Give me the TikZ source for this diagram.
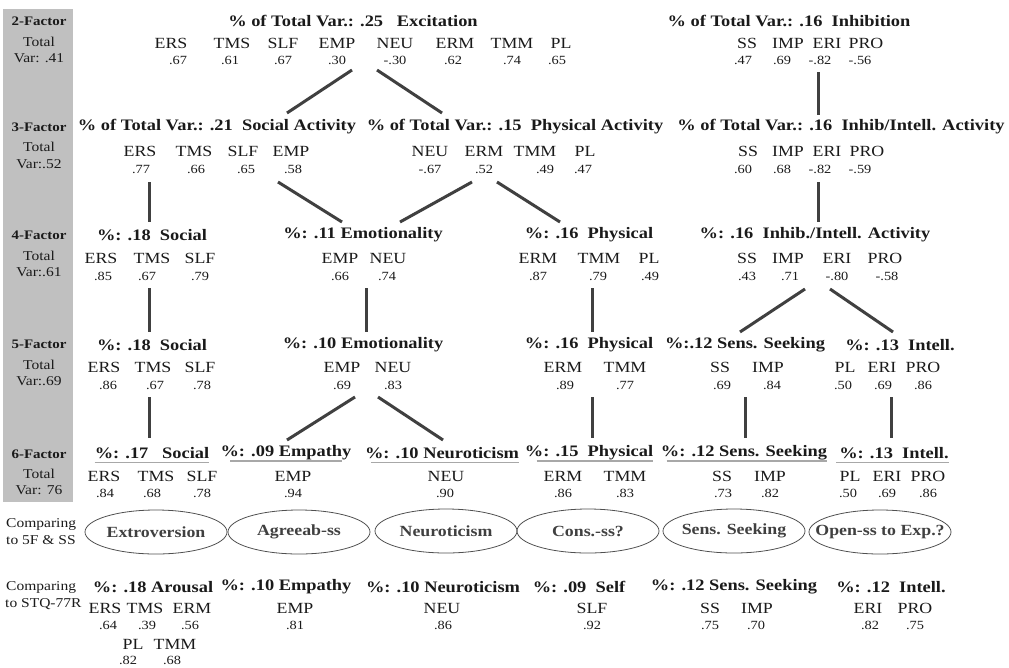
\documentclass[tikz,border=0pt]{standalone}
\usepackage{fontspec}
\setmainfont{Liberation Serif}[FakeStretch=1.15]
\usetikzlibrary{calc}
\definecolor{ink}{HTML}{1A1A1A}
\definecolor{linkgray}{HTML}{404040}
\definecolor{colgray}{HTML}{C0C0C0}
\definecolor{ulgray}{HTML}{A8A8A8}
\definecolor{ellgray}{HTML}{505050}
\tikzset{
	fhead/.style={font=\fontsize{16}{19}\selectfont\bfseries, text=ink, inner sep=0pt},
	fvar/.style={font=\fontsize{15.5}{18}\selectfont, text=ink, inner sep=0pt},
	fval/.style={font=\fontsize{12.5}{14}\selectfont, text=ink, inner sep=0pt},
	rowhead/.style={font=\fontsize{13}{15}\selectfont\bfseries, text=ink, inner sep=0pt},
	rowlab/.style={font=\fontsize{13.5}{15}\selectfont, text=ink, inner sep=0pt},
	cmplab/.style={rowlab, anchor=west},
	branch/.style={draw=linkgray, line width=3pt},
	uline/.style={draw=ulgray, line width=1.6pt},
	match/.style={font=\fontsize{15.5}{18}\selectfont\bfseries, text=linkgray, inner sep=0pt},
	matchring/.style={draw=ellgray, line width=0.8pt, x radius=71, y radius=22}
}
\begin{document}
\begin{tikzpicture}[x=1pt,y=1pt,yscale=-1,xscale=1]
\useasboundingbox (0,0) rectangle (1009,667);
%grey column with the number of factors
\fill [colgray] (3,9) rectangle (73,502);

\draw (39,21) node [rowhead] (r2) {2-Factor};
\draw (39,42) node [rowlab] (r2a) {Total};
\draw (39,58) node [rowlab] (r2b) {Var: .41};
\draw (39,127) node [rowhead] (r3) {3-Factor};
\draw (39,147) node [rowlab] (r3a) {Total};
\draw (39,164) node [rowlab] (r3b) {Var:.52};
\draw (39,235) node [rowhead] (r4) {4-Factor};
\draw (39,256) node [rowlab] (r4a) {Total};
\draw (39,272) node [rowlab] (r4b) {Var:.61};
\draw (39,344) node [rowhead] (r5) {5-Factor};
\draw (39,365) node [rowlab] (r5a) {Total};
\draw (39,381) node [rowlab] (r5b) {Var:.69};
\draw (39,454) node [rowhead] (r6) {6-Factor};
\draw (39,474) node [rowlab] (r6a) {Total};
\draw (39,490) node [rowlab] (r6b) {Var: 76};
\draw (6,524) node [cmplab] (c1a) {Comparing};
\draw (6,540) node [cmplab] (c1b) {to 5F \& SS};
\draw (6,587) node [cmplab] (c2a) {Comparing};
\draw (5,604) node [cmplab] (c2b) {to STQ-77R};

%2 factors
\draw (353,21) node [fhead] (f2exc) {\% of Total Var.: .25\ \ \ Excitation};
\draw (171,43) node [fvar] (f2ers) {ERS};
\draw (232,43) node [fvar] (f2tms) {TMS};
\draw (283,43) node [fvar] (f2slf) {SLF};
\draw (337,43) node [fvar] (f2emp) {EMP};
\draw (395,43) node [fvar] (f2neu) {NEU};
\draw (455,43) node [fvar] (f2erm) {ERM};
\draw (512,43) node [fvar] (f2tmm) {TMM};
\draw (561,43) node [fvar] (f2pl) {PL};
\draw (178,60) node [fval] (f2ersv) {.67};
\draw (230,60) node [fval] (f2tmsv) {.61};
\draw (283,60) node [fval] (f2slfv) {.67};
\draw (337,60) node [fval] (f2empv) {.30};
\draw (395,60) node [fval] (f2neuv) {-.30};
\draw (453,60) node [fval] (f2ermv) {.62};
\draw (512,60) node [fval] (f2tmmv) {.74};
\draw (557,60) node [fval] (f2plv) {.65};

\draw (789,21) node [fhead] (f2inh) {\% of Total Var.: .16\ \ Inhibition};
\draw (747,43) node [fvar] (f2ss) {SS};
\draw (788,43) node [fvar] (f2imp) {IMP};
\draw (827,43) node [fvar] (f2eri) {ERI};
\draw (866,43) node [fvar] (f2pro) {PRO};
\draw (743,60) node [fval] (f2ssv) {.47};
\draw (782,60) node [fval] (f2impv) {.69};
\draw (820,60) node [fval] (f2eriv) {-.82};
\draw (860,60) node [fval] (f2prov) {-.56};

%3 factors
\draw (217,127) node [fhead] (f3soc) {\% of Total Var.: .21\ \ Social Activity};
\draw (515,127) node [fhead] (f3phy) {\% of Total Var.: .15\ \ Physical Activity};
\draw (841,127) node [fhead] (f3ii) {\% of Total Var.: .16\ \ Inhib/Intell. Activity};
\draw (140,151) node [fvar] (f3ers) {ERS};
\draw (194,151) node [fvar] (f3tms) {TMS};
\draw (243,151) node [fvar] (f3slf) {SLF};
\draw (291,151) node [fvar] (f3emp) {EMP};
\draw (430,151) node [fvar] (f3neu) {NEU};
\draw (484,151) node [fvar] (f3erm) {ERM};
\draw (535,151) node [fvar] (f3tmm) {TMM};
\draw (585,151) node [fvar] (f3pl) {PL};
\draw (748,151) node [fvar] (f3ss) {SS};
\draw (788,151) node [fvar] (f3imp) {IMP};
\draw (827,151) node [fvar] (f3eri) {ERI};
\draw (867,151) node [fvar] (f3pro) {PRO};
\draw (141,169) node [fval] (f3ersv) {.77};
\draw (196,169) node [fval] (f3tmsv) {.66};
\draw (246,169) node [fval] (f3slfv) {.65};
\draw (293,169) node [fval] (f3empv) {.58};
\draw (430,169) node [fval] (f3neuv) {-.67};
\draw (484,169) node [fval] (f3ermv) {.52};
\draw (545,169) node [fval] (f3tmmv) {.49};
\draw (583,169) node [fval] (f3plv) {.47};
\draw (743,169) node [fval] (f3ssv) {.60};
\draw (782,169) node [fval] (f3impv) {.68};
\draw (820,169) node [fval] (f3eriv) {-.82};
\draw (860,169) node [fval] (f3prov) {-.59};

%4 factors
\draw (152,235) node [fhead] (f4soc) {\%: .18\ \ Social};
\draw (363,235) node [fhead] (f4emo) {\%: .11 Emotionality};
\draw (589,235) node [fhead] (f4phy) {\%: .16\ \ Physical};
\draw (815,235) node [fhead] (f4ii) {\%: .16\ \ Inhib./Intell. Activity};
\draw (101,258) node [fvar] (f4ers) {ERS};
\draw (152,258) node [fvar] (f4tms) {TMS};
\draw (200,258) node [fvar] (f4slf) {SLF};
\draw (340,258) node [fvar] (f4emp) {EMP};
\draw (388,258) node [fvar] (f4neu) {NEU};
\draw (538,258) node [fvar] (f4erm) {ERM};
\draw (599,258) node [fvar] (f4tmm) {TMM};
\draw (649,258) node [fvar] (f4pl) {PL};
\draw (747,258) node [fvar] (f4ss) {SS};
\draw (788,258) node [fvar] (f4imp) {IMP};
\draw (837,258) node [fvar] (f4eri) {ERI};
\draw (885,258) node [fvar] (f4pro) {PRO};
\draw (103,276) node [fval] (f4ersv) {.85};
\draw (147,276) node [fval] (f4tmsv) {.67};
\draw (200,276) node [fval] (f4slfv) {.79};
\draw (340,276) node [fval] (f4empv) {.66};
\draw (387,276) node [fval] (f4neuv) {.74};
\draw (538,276) node [fval] (f4ermv) {.87};
\draw (598,276) node [fval] (f4tmmv) {.79};
\draw (650,276) node [fval] (f4plv) {.49};
\draw (747,276) node [fval] (f4ssv) {.43};
\draw (790,276) node [fval] (f4impv) {.71};
\draw (837,276) node [fval] (f4eriv) {-.80};
\draw (887,276) node [fval] (f4prov) {-.58};

%5 factors
\draw (152,345) node [fhead] (f5soc) {\%: .18\ \ Social};
\draw (363,345) node [fhead] (f5emo) {\%: .10 Emotionality};
\draw (589,345) node [fhead] (f5phy) {\%: .16\ \ Physical};
\draw (745,345) node [fhead] (f5ss) {\%:.12 Sens. Seeking};
\draw (900,345) node [fhead] (f5int) {\%: .13\ \ Intell.};
\draw (104,367) node [fvar] (f5ers) {ERS};
\draw (153,367) node [fvar] (f5tms) {TMS};
\draw (200,367) node [fvar] (f5slf) {SLF};
\draw (342,367) node [fvar] (f5emp) {EMP};
\draw (393,367) node [fvar] (f5neu) {NEU};
\draw (563,367) node [fvar] (f5erm) {ERM};
\draw (625,367) node [fvar] (f5tmm) {TMM};
\draw (720,367) node [fvar] (f5sss) {SS};
\draw (768,367) node [fvar] (f5imp) {IMP};
\draw (845,367) node [fvar] (f5pl) {PL};
\draw (882,367) node [fvar] (f5eri) {ERI};
\draw (923,367) node [fvar] (f5pro) {PRO};
\draw (108,385) node [fval] (f5ersv) {.86};
\draw (155,385) node [fval] (f5tmsv) {.67};
\draw (202,385) node [fval] (f5slfv) {.78};
\draw (342,385) node [fval] (f5empv) {.69};
\draw (393,385) node [fval] (f5neuv) {.83};
\draw (565,385) node [fval] (f5ermv) {.89};
\draw (625,385) node [fval] (f5tmmv) {.77};
\draw (722,385) node [fval] (f5sssv) {.69};
\draw (772,385) node [fval] (f5impv) {.84};
\draw (843,385) node [fval] (f5plv) {.50};
\draw (883,385) node [fval] (f5eriv) {.69};
\draw (923,385) node [fval] (f5prov) {.86};

%6 factors
\draw (152,453) node [fhead] (f6soc) {\%: .17\ \ \ Social};
\draw (286,453) node [fhead] (f6emp) {\%: .09 Empathy};
\draw (442,453) node [fhead] (f6neu) {\%: .10 Neuroticism};
\draw (589,453) node [fhead] (f6phy) {\%: .15\ \ Physical};
\draw (744,453) node [fhead] (f6ss) {\%: .12 Sens. Seeking};
\draw (894,453) node [fhead] (f6int) {\%: .13\ \ Intell.};
\draw (104,476) node [fvar] (f6ers) {ERS};
\draw (156,476) node [fvar] (f6tms) {TMS};
\draw (202,476) node [fvar] (f6slf) {SLF};
\draw (293,476) node [fvar] (f6empx) {EMP};
\draw (446,476) node [fvar] (f6neux) {NEU};
\draw (563,476) node [fvar] (f6erm) {ERM};
\draw (625,476) node [fvar] (f6tmm) {TMM};
\draw (722,476) node [fvar] (f6sss) {SS};
\draw (770,476) node [fvar] (f6imp) {IMP};
\draw (850,476) node [fvar] (f6pl) {PL};
\draw (887,476) node [fvar] (f6eri) {ERI};
\draw (928,476) node [fvar] (f6pro) {PRO};
\draw (105,493) node [fval] (f6ersv) {.84};
\draw (152,493) node [fval] (f6tmsv) {.68};
\draw (202,493) node [fval] (f6slfv) {.78};
\draw (293,493) node [fval] (f6empv) {.94};
\draw (445,493) node [fval] (f6neuv) {.90};
\draw (563,493) node [fval] (f6ermv) {.86};
\draw (625,493) node [fval] (f6tmmv) {.83};
\draw (723,493) node [fval] (f6sssv) {.73};
\draw (770,493) node [fval] (f6impv) {.82};
\draw (848,493) node [fval] (f6plv) {.50};
\draw (887,493) node [fval] (f6eriv) {.69};
\draw (928,493) node [fval] (f6prov) {.86};

%grey underlines of the 6 factors
\draw [uline] ($(f6soc.base west)+(0,4)$) -- ($(f6soc.base east)+(0,4)$);
\draw [uline] ($(f6emp.base west)+(10,4)$) -- ($(f6emp.base east)+(-10,4)$);
\draw [uline] ($(f6neu.base west)+(6,4)$) -- ($(f6neu.base east)+(0,4)$);
\draw [uline] ($(f6phy.base west)+(12,4)$) -- ($(f6phy.base east)+(0,4)$);
\draw [uline] ($(f6ss.base west)+(6,4)$) -- ($(f6ss.base east)+(0,4)$);
\draw [uline] ($(f6int.base west)+(-3,4)$) -- ($(f6int.base east)+(0,4)$);

%comparison with 5F and SS
\draw (156,532) node [match] (extro) {Extroversion};
\draw (299,532) node [match] (agree) {Agreeab-ss};
\draw (446,531) node [match] (neuro) {Neuroticism};
\draw (588,531) node [match] (consc) {Cons.-ss?};
\draw (734,531) node [match] (sensk) {Sens. Seeking};
\draw (880,532) node [match] (openx) {Open-ss to Exp.?};
\draw [matchring] (extro) ellipse [];
\draw [matchring] (agree) ellipse [];
\draw [matchring] (neuro) ellipse [];
\draw [matchring] (consc) ellipse [];
\draw [matchring] (sensk) ellipse [];
\draw [matchring] (openx) ellipse [];

%comparison with STQ-77R
\draw (153,587) node [fhead] (s7aro) {\%: .18 Arousal};
\draw (286,587) node [fhead] (s7emp) {\%: .10 Empathy};
\draw (443,587) node [fhead] (s7neu) {\%: .10 Neuroticism};
\draw (579,587) node [fhead] (s7slf) {\%: .09\ \ Self};
\draw (734,587) node [fhead] (s7ss) {\%: .12 Sens. Seeking};
\draw (891,587) node [fhead] (s7int) {\%: .12\ \ Intell.};
\draw (105,608) node [fvar] (s7ers) {ERS};
\draw (145,608) node [fvar] (s7tms) {TMS};
\draw (192,608) node [fvar] (s7erm) {ERM};
\draw (295,608) node [fvar] (s7empx) {EMP};
\draw (442,608) node [fvar] (s7neux) {NEU};
\draw (592,608) node [fvar] (s7slfx) {SLF};
\draw (710,608) node [fvar] (s7sss) {SS};
\draw (757,608) node [fvar] (s7imp) {IMP};
\draw (868,608) node [fvar] (s7eri) {ERI};
\draw (915,608) node [fvar] (s7pro) {PRO};
\draw (108,625) node [fval] (s7ersv) {.64};
\draw (147,625) node [fval] (s7tmsv) {.39};
\draw (190,625) node [fval] (s7ermv) {.56};
\draw (295,625) node [fval] (s7empv) {.81};
\draw (443,625) node [fval] (s7neuv) {.86};
\draw (592,625) node [fval] (s7slfv) {.92};
\draw (710,625) node [fval] (s7sssv) {.75};
\draw (756,625) node [fval] (s7impv) {.70};
\draw (870,625) node [fval] (s7eriv) {.82};
\draw (915,625) node [fval] (s7prov) {.75};
\draw (133,644) node [fvar] (s7pl) {PL};
\draw (175,644) node [fvar] (s7tmm) {TMM};
\draw (128,660) node [fval] (s7plv) {.82};
\draw (172,660) node [fval] (s7tmmv) {.68};

%branch ends
\coordinate (exc-l) at (352,70);
\coordinate (exc-r) at (377,70);
\coordinate (soc3-in) at (287,113);
\coordinate (phy3-in) at (442,113);
\coordinate (inh-out) at (818,72);
\coordinate (ii3-in) at (818,115);
\coordinate (soc3-out) at (149,182);
\coordinate (soc3-emo) at (278,182);
\coordinate (phy3-emo) at (472,182);
\coordinate (phy3-phy) at (497,182);
\coordinate (ii3-out) at (818,182);
\coordinate (soc4-in) at (149,222);
\coordinate (emo4-l) at (342,222);
\coordinate (emo4-r) at (400,222);
\coordinate (phy4-in) at (560,222);
\coordinate (ii4-in) at (818,222);
\coordinate (soc4-out) at (149,288);
\coordinate (emo4-out) at (366,288);
\coordinate (phy4-out) at (592,288);
\coordinate (ii4-l) at (805,289);
\coordinate (ii4-r) at (830,289);
\coordinate (soc5-in) at (149,332);
\coordinate (emo5-in) at (366,332);
\coordinate (phy5-in) at (592,332);
\coordinate (ss5-in) at (740,332);
\coordinate (int5-in) at (893,332);
\coordinate (soc5-out) at (149,397);
\coordinate (emo5-l) at (355,397);
\coordinate (emo5-r) at (378,397);
\coordinate (phy5-out) at (592,397);
\coordinate (ss5-out) at (745,397);
\coordinate (int5-out) at (891,397);
\coordinate (soc6-in) at (149,438);
\coordinate (emp6-in) at (287,440);
\coordinate (neu6-in) at (443,440);
\coordinate (phy6-in) at (592,438);
\coordinate (ss6-in) at (745,438);
\coordinate (int6-in) at (891,438);

\draw [branch] (exc-l) -- (soc3-in);
\draw [branch] (exc-r) -- (phy3-in);
\draw [branch] (inh-out) -- (ii3-in);
\draw [branch] (soc3-out) -- (soc4-in);
\draw [branch] (soc3-emo) -- (emo4-l);
\draw [branch] (phy3-emo) -- (emo4-r);
\draw [branch] (phy3-phy) -- (phy4-in);
\draw [branch] (ii3-out) -- (ii4-in);
\draw [branch] (soc4-out) -- (soc5-in);
\draw [branch] (emo4-out) -- (emo5-in);
\draw [branch] (phy4-out) -- (phy5-in);
\draw [branch] (ii4-l) -- (ss5-in);
\draw [branch] (ii4-r) -- (int5-in);
\draw [branch] (soc5-out) -- (soc6-in);
\draw [branch] (emo5-l) -- (emp6-in);
\draw [branch] (emo5-r) -- (neu6-in);
\draw [branch] (phy5-out) -- (phy6-in);
\draw [branch] (ss5-out) -- (ss6-in);
\draw [branch] (int5-out) -- (int6-in);

\end{tikzpicture}
\end{document}
